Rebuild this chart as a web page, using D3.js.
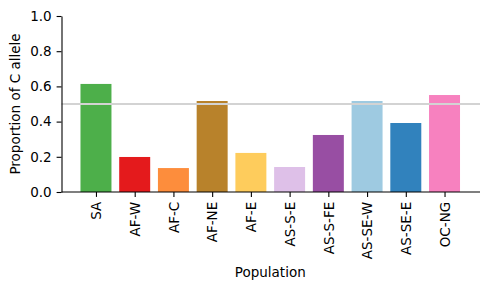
<!DOCTYPE html>
<html>
<head>
<meta charset="utf-8">
<script src="https://cdn.jsdelivr.net/npm/d3@7"></script>
<style>
    html, body { margin: 0; padding: 0; background: #fff; }
    svg { display: block; font-family: "DejaVu Sans", sans-serif; }
    .axis path, .axis line { stroke: #000; stroke-width: 1.1px; }
    .axis text { fill: #000; font-family: "DejaVu Sans", sans-serif; font-size: 13.5px; }
</style>
</head>
<body>
<svg id="graph" width="490" height="290"></svg>
<script>
(function(){
    'use strict';

    /*******************************************************************
     *                              DATA                               *
     *******************************************************************/

    var populations = ['SA', 'AF-W', 'AF-C', 'AF-NE', 'AF-E',
                       'AS-S-E', 'AS-S-FE', 'AS-SE-W', 'AS-SE-E', 'OC-NG'];

    //Proportion of C allele per population
    var proportions = [0.614, 0.199, 0.136, 0.517, 0.222,
                       0.142, 0.324, 0.517, 0.392, 0.551];

    var barColors = ['#4daf4a', '#e41a1c', '#fd8d3c', '#b8822b', '#fecc5c',
                     '#dec0e8', '#984ea3', '#9ecae1', '#3182bd', '#f781bf'];

    var yTicks = [0, 0.2, 0.4, 0.6, 0.8, 1.0];

    //Reference line drawn across the whole plot
    var threshold = 0.5;

    /*******************************************************************
     *                             LAYOUT                              *
     *******************************************************************/

    var left = 61.5,
        right = 479,
        top = 16,
        bottom = 192;

    var svg = d3.select('#graph');

    //matplotlib style index scale, bars are 0.8 wide with 5% margins
    var xScale = d3.scaleLinear()
        .domain([-0.89, populations.length - 1 + 0.89])
        .range([left, right]);

    var yScale = d3.scaleLinear()
        .domain([0, 1])
        .range([bottom, top]);

    var barWidth = xScale(0.8) - xScale(0);

    /*******************************************************************
     *                              BARS                               *
     *******************************************************************/

    svg.append('g')
        .selectAll('rect')
        .data(proportions)
        .enter()
        .append('rect')
        .attr('x',      function(d, i) { return xScale(i) - barWidth / 2; })
        .attr('y',      function(d) { return yScale(d); })
        .attr('width',  barWidth)
        .attr('height', function(d) { return yScale(0) - yScale(d); })
        .attr('fill',   function(d, i) { return barColors[i]; });

    svg.append('line')
        .attr('x1', left)
        .attr('x2', right + 1)
        .attr('y1', yScale(threshold))
        .attr('y2', yScale(threshold))
        .attr('stroke', '#d3d3d3')
        .attr('stroke-width', 2);

    /*******************************************************************
     *                              AXES                               *
     *******************************************************************/

    var x = d3.axisBottom(xScale)
        .tickValues(d3.range(populations.length))
        .tickSize(4.9)
        .tickSizeOuter(0)
        .tickPadding(4.9)
        .tickFormat(function(i) { return populations[i]; });

    var xAxis = svg.append('g')
        .attr('class', 'x axis')
        .attr('transform', 'translate(0,' + bottom + ')')
        .call(x)
        .attr('font-family', null)
        .attr('font-size', null);

    xAxis.select('.domain').attr('d', 'M' + left + ',0H' + (right + 1));

    xAxis.selectAll('.tick text')
        .attr('text-anchor', 'end')
        .attr('transform', 'rotate(-90)')
        .attr('x', -9.8)
        .attr('y', 0)
        .attr('dy', '0.35em');

    var y = d3.axisLeft(yScale)
        .tickValues(yTicks)
        .tickSize(4.9)
        .tickSizeOuter(0)
        .tickPadding(4.9)
        .tickFormat(d3.format('.1f'));

    svg.append('g')
        .attr('class', 'y axis')
        .attr('transform', 'translate(' + left + ',0)')
        .call(y)
        .attr('font-family', null)
        .attr('font-size', null);

    //Axis titles
    svg.append('text')
        .attr('transform', 'translate(20,' + ((top + bottom) / 2) + ') rotate(-90)')
        .attr('text-anchor', 'middle')
        .style('font-size', '13.5px')
        .text('Proportion of C allele');

    svg.append('text')
        .attr('x', (left + right) / 2)
        .attr('y', 277)
        .attr('text-anchor', 'middle')
        .style('font-size', '13.5px')
        .text('Population');
})();
</script>
</body>
</html>
